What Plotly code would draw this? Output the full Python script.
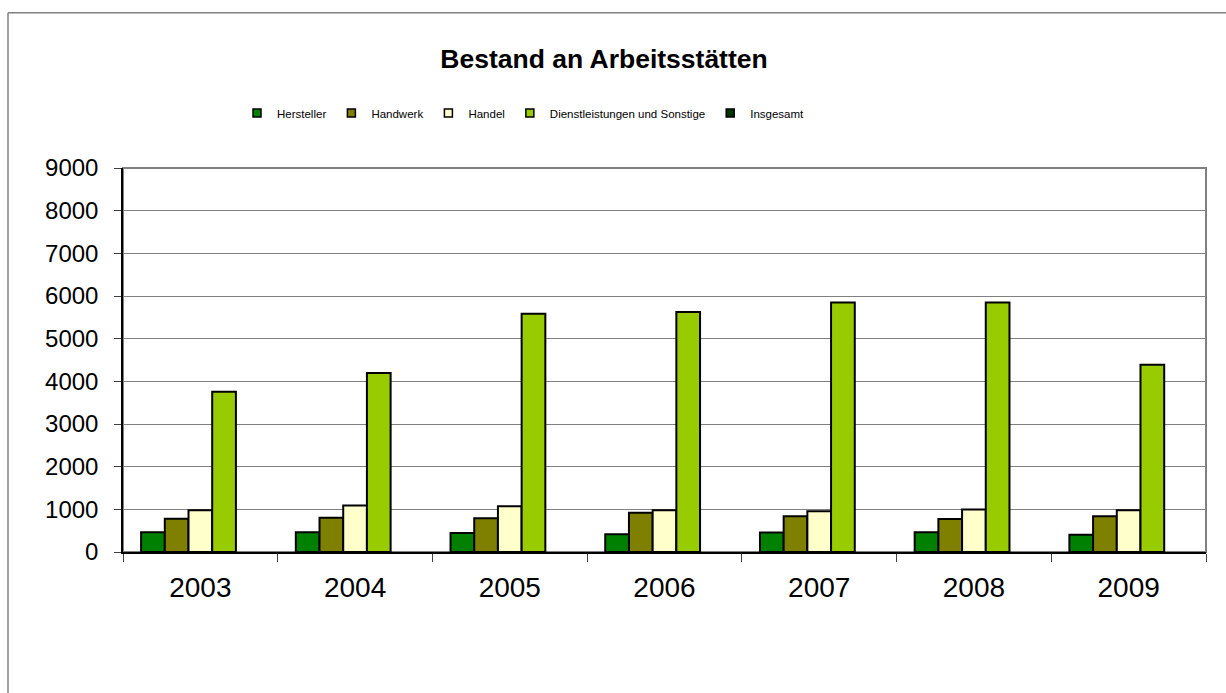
import plotly.graph_objects as go

# Bestand an Arbeitsstätten nach Wirtschaftsbereich
jahre = ["2003", "2004", "2005", "2006", "2007", "2008", "2009"]
hersteller = [460, 465, 445, 415, 455, 460, 405]
handwerk = [780, 800, 790, 920, 840, 775, 840]
handel = [980, 1090, 1075, 980, 955, 995, 980]
dienstleistungen = [3755, 4195, 5585, 5625, 5845, 5845, 4390]
insgesamt = [None, None, None, None, None, None, None]

reihen = [
    ("Hersteller", hersteller, "#008000"),
    ("Handwerk", handwerk, "#808000"),
    ("Handel", handel, "#FFFFCC"),
    ("Dienstleistungen und Sonstige", dienstleistungen, "#99CC00"),
    ("Insgesamt", insgesamt, "#003300"),
]

W, H = 1226, 693
L, R, T, B = 123, 20, 168, 141
pw, ph = W - L - R, H - T - B


def px_x(px):
    return (px - L) / pw


def px_y(py):
    return (H - B - py) / ph


fig = go.Figure()
for name, werte, farbe in reihen:
    fig.add_trace(go.Bar(
        x=jahre, y=werte, name=name, showlegend=False,
        marker=dict(color=farbe, line=dict(color="black", width=2)),
    ))
    # Legendensymbol als kleines Quadrat
    fig.add_trace(go.Scatter(
        x=[None], y=[None], mode="markers", name=name,
        marker=dict(symbol="square", size=8, color=farbe,
                    line=dict(color="black", width=1.5)),
    ))

font = "Arial, Liberation Sans, Helvetica, sans-serif"

fig.update_layout(
    width=W, height=H,
    margin=dict(l=L, r=R, t=T, b=B),
    paper_bgcolor="white", plot_bgcolor="white",
    barmode="group", bargap=0.234, bargroupgap=0,
    font=dict(family=font, color="black"),
    title=dict(text="<b>Bestand an Arbeitsstätten</b>",
               x=604 / W, xanchor="center",
               y=(H - 59) / H, yanchor="middle",
               font=dict(size=26.5, family=font, color="black")),
    legend=dict(orientation="h", x=px_x(237), xanchor="left",
                y=px_y(113), yanchor="middle",
                font=dict(size=11.5, family=font, color="black"),
                itemwidth=30, tracegroupgap=0,
                bgcolor="rgba(0,0,0,0)"),
    xaxis=dict(
        type="category", showgrid=False,
        showline=True, linecolor="black", linewidth=1.5,
        ticks="outside", ticklen=8, tickcolor="#404040", tickwidth=1,
        tickson="boundaries", ticklabelstandoff=10,
        tickfont=dict(size=28, family=font, color="black"),
    ),
    yaxis=dict(
        range=[0, 9000], dtick=1000, tickformat="d",
        showgrid=True, gridcolor="#808080", gridwidth=1,
        showline=True, linecolor="black", linewidth=1.5,
        ticks="outside", ticklen=7, tickcolor="#404040", tickwidth=1,
        ticklabelstandoff=11, zeroline=False,
        tickfont=dict(size=24, family=font, color="black"),
    ),
    shapes=[
        # Rahmen der Zeichenfläche
        dict(type="rect", xref="paper", yref="paper", x0=0, x1=1, y0=0, y1=1,
             line=dict(color="#808080", width=2), layer="below"),
        # Rahmen des Diagrammbereichs (oben und links)
        dict(type="line", xref="paper", yref="paper",
             x0=px_x(8), x1=px_x(W + 5), y0=px_y(12.7), y1=px_y(12.7),
             line=dict(color="#808080", width=1.5)),
        dict(type="line", xref="paper", yref="paper",
             x0=px_x(8), x1=px_x(8), y0=px_y(12.7), y1=px_y(H + 5),
             line=dict(color="#808080", width=1.5)),
    ],
)

fig.write_html("out.html")
